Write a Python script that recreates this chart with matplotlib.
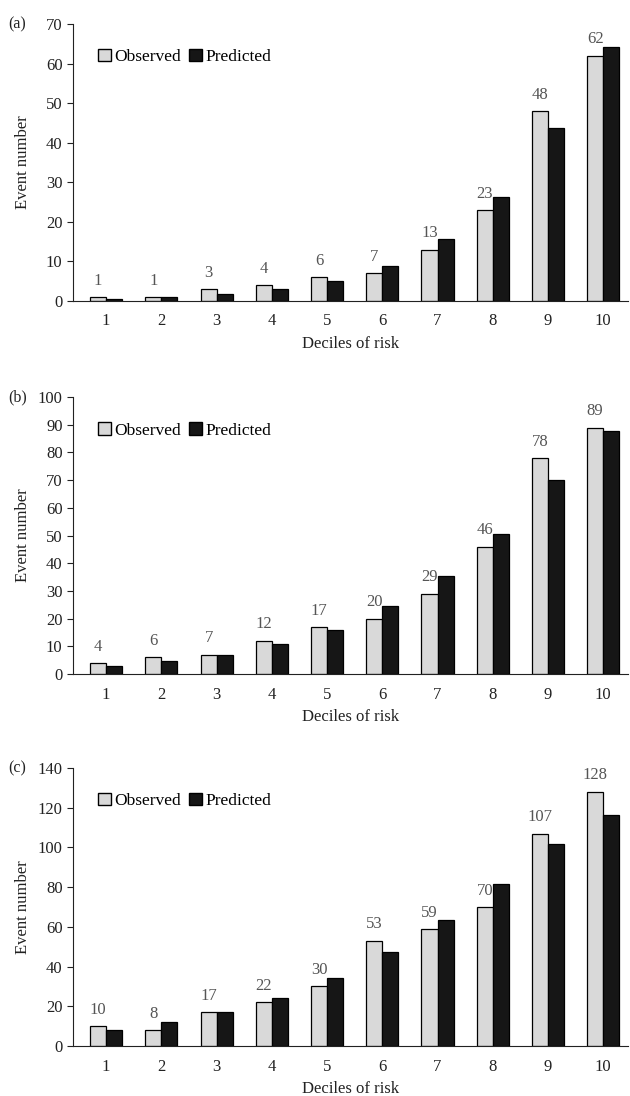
import numpy as np
import matplotlib.pyplot as plt
from matplotlib.patches import Patch

plt.rcParams['font.family'] = ['Liberation Serif', 'DejaVu Serif']

deciles = [1, 2, 3, 4, 5, 6, 7, 8, 9, 10]

# panel (a)
obs_a = [1, 1, 3, 4, 6, 7, 13, 23, 48, 62]
pred_a = [0.6, 1.0, 1.8, 3.0, 5.0, 8.9, 15.6, 26.4, 43.6, 64.2]
# panel (b)
obs_b = [4, 6, 7, 12, 17, 20, 29, 46, 78, 89]
pred_b = [2.9, 4.7, 7.0, 10.8, 16.0, 24.4, 35.5, 50.7, 69.9, 87.6]
# panel (c)
obs_c = [10, 8, 17, 22, 30, 53, 59, 70, 107, 128]
pred_c = [8.1, 11.9, 17.2, 24.4, 34.3, 47.4, 63.3, 81.6, 101.9, 116.4]

panels = [
    ('(a)', obs_a, pred_a, 70, 10, [0.1159, 0.7254, 0.881, 0.2527]),
    ('(b)', obs_b, pred_b, 100, 10, [0.1159, 0.3850, 0.881, 0.2527]),
    ('(c)', obs_c, pred_c, 140, 20, [0.1159, 0.0456, 0.881, 0.2537]),
]

fig = plt.figure(figsize=(6.3, 10.96), dpi=100)
x = np.array(deciles)
w = 0.29

for tag, obs, pred, ymax, step, pos in panels:
    ax = fig.add_axes(pos)
    ax.bar(x - w / 2, obs, w, color='#d9d9d9', edgecolor='black', linewidth=0.9)
    ax.bar(x + w / 2, pred, w, color='#161616', edgecolor='black', linewidth=0.9)
    for xi, v in zip(x, obs):
        ax.annotate(str(v), (xi - w / 2, v), xytext=(0, 6), textcoords='offset points',
                    ha='center', va='bottom', fontsize=12, color='#555555')
    ax.set_xlim(0.4, 10.45)
    ax.set_ylim(0, ymax)
    ax.set_yticks(np.arange(0, ymax + 1, step))
    ax.set_xticks(x)
    ax.tick_params(axis='x', length=0, pad=9, labelsize=12, colors='#222222')
    ax.tick_params(axis='y', length=4, direction='out', labelsize=12, colors='#222222')
    for s in ['top', 'right']:
        ax.spines[s].set_visible(False)
    ax.spines['left'].set_color('#222222')
    ax.spines['bottom'].set_color('#222222')
    ax.set_ylabel('Event number', fontsize=12, color='#222222')
    ax.yaxis.set_label_coords(-0.075, 0.5)
    ax.set_xlabel('Deciles of risk', fontsize=12, color='#222222', labelpad=5)
    ax.text(-0.10, 1.0, tag, transform=ax.transAxes, fontsize=11.5, color='#222222',
            ha='center', va='center')
    handles = [Patch(facecolor='#d9d9d9', edgecolor='black', label='Observed'),
               Patch(facecolor='#161616', edgecolor='black', label='Predicted')]
    ax.legend(handles=handles, loc='upper left', bbox_to_anchor=(0.03, 0.94), ncol=2,
              frameon=False, fontsize=12.5, handlelength=0.7, handleheight=0.7,
              handletextpad=0.2, columnspacing=0.5, borderpad=0)

fig.savefig('out.png', dpi=100)
